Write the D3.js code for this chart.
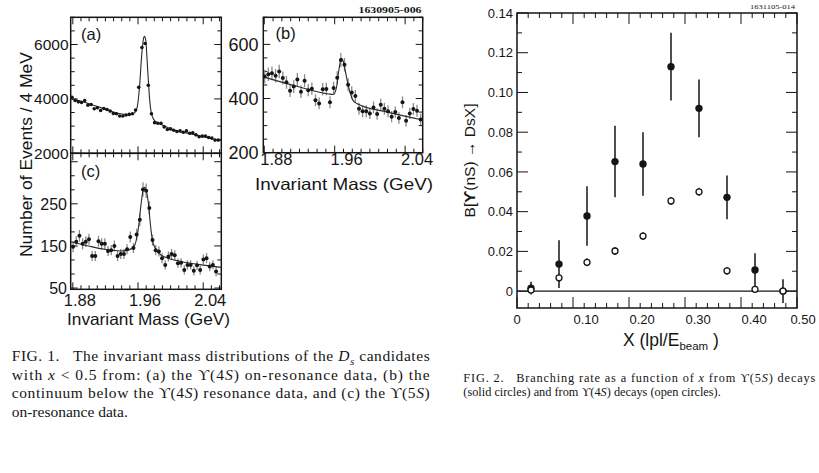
<!DOCTYPE html>
<html>
<head>
<meta charset="utf-8">
<script src="https://cdn.jsdelivr.net/npm/d3@7"></script>
<style>
  body { margin: 0; background: #fff; }
  svg text { font-family: "Liberation Sans", Arial, sans-serif; fill: #151515; white-space: pre; }
  svg text.serif { font-family: "Liberation Serif", "Times New Roman", serif; }
</style>
</head>
<body>
<svg id="chart" width="819" height="473"></svg>
<script>
// ---- FIG. 1 data: D_s invariant mass, events per bin ----
// (a) Y(4S) on-resonance
const massStartA = 1.879, massStepA = 0.0039;
const countsA = [4061, 3939, 3891, 3867, 3939, 3770, 3794, 3636, 3673, 3576, 3648, 3612, 3552, 3467, 3455, 3370,
  3370, 3406, 3430, 3455, 3588, 4424, 5891, 6036, 4500, 3455, 3127, 3103, 3103, 2970, 2873, 2897, 2849, 2800,
  2824, 2776, 2824, 2739, 2752, 2679, 2606, 2630, 2630, 2582, 2558, 2485, 2485];
const fitMassA = [1.8774, 1.895, 1.915, 1.935, 1.948, 1.955, 1.959, 1.962, 1.9645, 1.967, 1.968, 1.9695, 1.972,
  1.9745, 1.977, 1.981, 1.9885, 2.005, 2.021, 2.038, 2.0622];
const fitA = [4000, 3870, 3670, 3470, 3420, 3470, 3700, 4500, 5600, 6250, 6300, 6150, 5000, 3900, 3400, 3180,
  3060, 2850, 2740, 2630, 2460];

// (b) continuum below Y(4S)
const massStartB = 1.8805, massStepB = 0.00412;
const countsB = [481, 490, 493, 484, 500, 476, 460, 429, 444, 470, 425, 466, 431, 436, 394, 382, 434, 435, 386,
  439, 477, 542, 525, 451, 422, 409, 362, 353, 353, 345, 367, 343, 377, 362, 353, 333, 350, 328, 386, 318, 345,
  361, 355, 323];
const errB = [25, 25, 25, 25, 25, 24, 24, 23, 24, 24, 23, 24, 23, 23, 22, 22, 23, 23, 22, 23, 24, 26, 25, 24, 23,
  23, 22, 22, 22, 21, 22, 21, 22, 22, 22, 21, 21, 21, 22, 21, 21, 22, 22, 21];
const fitMassB = [1.8789, 1.915, 1.953, 1.9585, 1.962, 1.965, 1.9675, 1.970, 1.9725, 1.976, 1.9805, 1.985, 2.021, 2.06];
const fitB = [480, 447, 417, 415, 440, 510, 548, 535, 495, 440, 395, 382, 349, 321];

// (c) Y(5S) on-resonance
const massStartC = 1.8803, massStepC = 0.0039;
const countsC = [148, 160, 174, 155, 160, 166, 126, 126, 161, 155, 155, 138, 140, 150, 126, 131, 131, 142, 171,
  145, 177, 212, 284, 281, 240, 164, 140, 137, 121, 105, 125, 131, 128, 109, 110, 93, 105, 105, 91, 104, 93, 118,
  121, 101, 105, 89];
const errC = [13, 13, 14, 13, 13, 13, 12, 12, 13, 13, 13, 12, 12, 13, 12, 12, 12, 12, 13, 12, 14, 15, 17, 17, 16,
  13, 12, 12, 12, 11, 12, 12, 12, 11, 11, 11, 11, 11, 11, 11, 11, 12, 12, 11, 11, 11];
const fitMassC = [1.8774, 1.899, 1.919, 1.9395, 1.948, 1.956, 1.9585, 1.961, 1.9635, 1.966, 1.968, 1.970, 1.9725,
  1.975, 1.9775, 1.981, 1.9885, 2.013, 2.038, 2.0622];
const fitC = [160, 150, 142, 138, 140, 152, 170, 200, 245, 280, 289, 282, 255, 205, 165, 145, 128, 113, 105, 99];

const massLabels = [1.88, 1.96, 2.04];

// ---- FIG. 2 data: branching rate vs x ----
const xBins = [0.025, 0.075, 0.125, 0.175, 0.225, 0.275, 0.325, 0.375, 0.425, 0.475];
const rate5S = [0.0015, 0.0136, 0.0378, 0.0652, 0.064, 0.113, 0.092, 0.0472, 0.0106, 0.0];
const err5S = [0.0032, 0.012, 0.015, 0.018, 0.016, 0.017, 0.0145, 0.011, 0.0085, 0.006];
const rate4S = [0.0005, 0.0067, 0.0145, 0.0202, 0.0277, 0.0454, 0.050, 0.0102, 0.0009, 0.0];
const err4S = [0.0015, 0.002, 0.002, 0.002, 0.002, 0.002, 0.002, 0.002, 0.0015, 0.0015];
const rateTicks = [0, 0.02, 0.04, 0.06, 0.08, 0.10, 0.12, 0.14];
const xTickLabels = [0, 0.1, 0.2, 0.3, 0.4, 0.5];

const ink = "#151515";
const svg = d3.select("#chart");

function near(v, step, base) {
  const q = (v - (base || 0)) / step;
  return Math.abs(q - Math.round(q)) < 1e-6;
}

// box with inside ticks on all four sides
function frame(x, y, o) {
  const [l, r] = x.range(), [b, t] = y.range();
  const g = svg.append("g").attr("stroke", ink).attr("fill", "none");
  o.xTicks.forEach(v => {
    const len = o.xMajor(v) ? o.majorLen : o.minorLen, px = x(v);
    g.append("line").attr("x1", px).attr("x2", px).attr("y1", b).attr("y2", b - len).attr("stroke-width", 1);
    g.append("line").attr("x1", px).attr("x2", px).attr("y1", t).attr("y2", t + len).attr("stroke-width", 1);
  });
  o.yTicks.forEach(v => {
    const len = o.yMajor(v) ? o.majorLen : o.minorLen, py = y(v);
    g.append("line").attr("x1", l).attr("x2", l + len).attr("y1", py).attr("y2", py).attr("stroke-width", 1);
    g.append("line").attr("x1", r).attr("x2", r - len).attr("y1", py).attr("y2", py).attr("stroke-width", 1);
  });
  g.append("rect").attr("x", l).attr("y", t).attr("width", r - l).attr("height", b - t)
    .attr("stroke-width", o.frameWidth);
}

function text(x, y, str, size, anchor) {
  return svg.append("text").attr("x", x).attr("y", y).attr("font-size", size)
    .attr("text-anchor", anchor || "start").text(str);
}

function massPanel(o) {
  const x = d3.scaleLinear().domain(o.xDomain).range(o.xRange);
  const y = d3.scaleLinear().domain(o.yDomain).range(o.yRange);
  frame(x, y, {
    xTicks: d3.range(188, 207).map(d => d / 100),
    xMajor: v => near(v, 0.08, 1.88),
    yTicks: o.yTicks,
    yMajor: o.yMajor,
    majorLen: 7, minorLen: 4, frameWidth: 1.5
  });
  const pts = o.counts.map((c, i) => ({ m: o.start + i * o.step, c: c, e: o.err ? o.err[i] : 0 }));
  const g = svg.append("g");
  if (o.err) {
    g.selectAll("line.err").data(pts).join("line")
      .attr("x1", d => x(d.m)).attr("x2", d => x(d.m))
      .attr("y1", d => y(d.c - d.e)).attr("y2", d => y(d.c + d.e))
      .attr("stroke", "#8a8a8a").attr("stroke-width", 1.3);
  }
  const line = d3.line().x((d, i) => x(o.fitMass[i])).y(d => y(d)).curve(d3.curveMonotoneX);
  g.append("path").attr("d", line(o.fit)).attr("fill", "none").attr("stroke", "#2a2a2a").attr("stroke-width", 1.1);
  g.selectAll("circle").data(pts).join("circle")
    .attr("cx", d => x(d.m)).attr("cy", d => y(d.c)).attr("r", o.r).attr("fill", ink);
  // tick labels
  o.yLabels.forEach(v => {
    text(o.yLabelX, y(v), String(v), o.yLabelSize, "end").attr("dy", "0.36em");
  });
  if (o.xLabelY) {
    massLabels.forEach(v => text(x(v) + o.xLabelDx, o.xLabelY, v.toFixed(2), 16.5, "middle"));
    text(o.titleX, o.titleY, "Invariant Mass (GeV)", 16.5, "middle")
      .attr("textLength", o.titleLen).attr("lengthAdjust", "spacingAndGlyphs");
  }
  text(o.tagX, o.tagY, o.tag, 16.5);
  return { x, y };
}

// (a)
massPanel({
  xDomain: [1.8774, 2.0622], xRange: [70.7, 221.3],
  yDomain: [2000, 7000], yRange: [153.3, 17.3],
  yTicks: d3.range(2000, 7001, 500), yMajor: v => near(v, 2000),
  counts: countsA, start: massStartA, step: massStepA, fitMass: fitMassA, fit: fitA, r: 1.8,
  yLabels: [2000, 4000, 6000], yLabelX: 68.5, yLabelSize: 15.5,
  tag: "(a)", tagX: 81, tagY: 40
});
// (b)
massPanel({
  xDomain: [1.8789, 2.06], xRange: [263.3, 422.7],
  yDomain: [200, 700], yRange: [152.7, 17.3],
  yTicks: d3.range(200, 701, 50), yMajor: v => near(v, 200),
  counts: countsB, err: errB, start: massStartB, step: massStepB, fitMass: fitMassB, fit: fitB, r: 2,
  yLabels: [200, 400, 600], yLabelX: 258.5, yLabelSize: 18,
  xLabelY: 165, xLabelDx: 12, titleX: 344, titleY: 189.5, titleLen: 178,
  tag: "(b)", tagX: 275.5, tagY: 39
});
// (c)
massPanel({
  xDomain: [1.8774, 2.0622], xRange: [70.7, 221.3],
  yDomain: [47, 370], yRange: [289.3, 153.3],
  yTicks: d3.range(0, 10).map(i => 50 + i * 100 / 3), yMajor: v => near(v, 100, 50),
  counts: countsC, err: errC, start: massStartC, step: massStepC, fitMass: fitMassC, fit: fitC, r: 2,
  yLabels: [50, 150, 250], yLabelX: 67, yLabelSize: 16,
  xLabelY: 305.5, xLabelDx: 7, titleX: 148.5, titleY: 324.5, titleLen: 163,
  tag: "(c)", tagX: 81, tagY: 177
});

// fig.1 y title
text(0, 0, "Number of Events / 4 MeV", 16, "middle")
  .attr("transform", "translate(32,154.5) rotate(-90)")
  .attr("textLength", 205).attr("lengthAdjust", "spacingAndGlyphs");
text(358.5, 13.3, "1630905-006", 8).attr("class", "serif").attr("font-weight", "bold")
  .attr("textLength", 63).attr("lengthAdjust", "spacingAndGlyphs");

// ---- FIG. 2 ----
const x2 = d3.scaleLinear().domain([0, 0.5]).range([517, 797]);
const y2 = d3.scaleLinear().domain([-0.0085, 0.14]).range([308, 13]);
frame(x2, y2, {
  xTicks: d3.range(0, 26).map(i => i * 0.02), xMajor: v => near(v, 0.1),
  yTicks: d3.range(0, 15).map(i => i * 0.01), yMajor: v => near(v, 0.02),
  majorLen: 11, minorLen: 5, frameWidth: 1.5
});
svg.append("line").attr("x1", x2(0)).attr("x2", x2(0.5)).attr("y1", y2(0)).attr("y2", y2(0))
  .attr("stroke", ink).attr("stroke-width", 1.3);

const fig2 = svg.append("g");
const solid = xBins.map((v, i) => ({ x: v, y: rate5S[i], e: err5S[i] }));
const open = xBins.map((v, i) => ({ x: v, y: rate4S[i], e: err4S[i] }));
fig2.selectAll("line.e5").data(solid).join("line").attr("class", "e5")
  .attr("x1", d => x2(d.x)).attr("x2", d => x2(d.x))
  .attr("y1", d => y2(d.y - d.e)).attr("y2", d => y2(d.y + d.e))
  .attr("stroke", ink).attr("stroke-width", 1.5);
fig2.selectAll("circle.c5").data(solid).join("circle").attr("class", "c5")
  .attr("cx", d => x2(d.x)).attr("cy", d => y2(d.y)).attr("r", 3.7).attr("fill", ink);
fig2.selectAll("line.e4").data(open).join("line").attr("class", "e4")
  .attr("x1", d => x2(d.x)).attr("x2", d => x2(d.x))
  .attr("y1", d => y2(d.y - d.e)).attr("y2", d => y2(d.y + d.e))
  .attr("stroke", ink).attr("stroke-width", 1.3);
fig2.selectAll("circle.c4").data(open).join("circle").attr("class", "c4")
  .attr("cx", d => x2(d.x)).attr("cy", d => y2(d.y)).attr("r", 3).attr("fill", "#fff")
  .attr("stroke", ink).attr("stroke-width", 1.3);

rateTicks.forEach(v => {
  text(513, y2(v), v === 0 ? "0" : v.toFixed(2), 13, "end").attr("dy", "0.36em");
});
xTickLabels.forEach(v => {
  const dx = v === 0 ? -3.6 : (v >= 0.5 ? -6.6 : 0.5);
  text(x2(v) + dx, 324, v === 0 ? "0" : v.toFixed(2), 13, "start");
});

const xt = text(623, 345.7, "", 17.5);
xt.append("tspan").text("X (lpl/E");
xt.append("tspan").attr("font-size", 11.5).attr("dy", 4.5).text("beam");
xt.append("tspan").attr("dy", -4.5).text(" )");

const yt = text(0, 0, "", 15.5, "middle").attr("transform", "translate(475,160.5) rotate(-90)")
  .attr("textLength", 114).attr("lengthAdjust", "spacingAndGlyphs");
yt.append("tspan").text("B[");
yt.append("tspan").attr("font-weight", "bold").text("ϒ");
yt.append("tspan").text("(nS) \u2192 DsX]");

text(750, 8.5, "1631105-014", 7).attr("class", "serif")
  .attr("textLength", 45).attr("lengthAdjust", "spacingAndGlyphs");

// ---- captions ----
function caption(x, y, parts, size, len) {
  const t = text(x, y, "", size).attr("class", "serif");
  parts.forEach(p => {
    const s = t.append("tspan").text(p[0]);
    if (p[1] === "i") s.attr("font-style", "italic");
    if (p[1] === "sub") s.attr("font-style", "italic").attr("font-size", size * 0.72).attr("dy", 3.5);
    if (p[1] === "up") s.attr("dy", -3.5);
  });
  if (len) t.attr("textLength", len).attr("lengthAdjust", "spacing");
  return t;
}
caption(11.7, 361, [["FIG. 1.   The invariant mass distributions of the "], ["D", "i"], ["s", "sub"],
  [" candidates", "up"]], 15.5, 418);
caption(11.7, 379.5, [["with "], ["x", "i"], [" < 0.5 from: (a) the ϒ(4"], ["S", "i"],
  [") on-resonance data, (b) the"]], 15.5, 418);
caption(11.7, 398, [["continuum below the ϒ(4"], ["S", "i"], [") resonance data, and (c) the ϒ(5"], ["S", "i"],
  [")"]], 15.5, 418);
caption(11.7, 416.5, [["on-resonance data."]], 15.5);

caption(463.3, 381.7, [["FIG. 2.   Branching rate as a function of "], ["x", "i"], [" from ϒ(5"], ["S", "i"],
  [") decays"]], 12.3, 352);
caption(463.3, 396, [["(solid circles) and from ϒ(4"], ["S", "i"], [") decays (open circles)."]], 12.3);
</script>
</body>
</html>
